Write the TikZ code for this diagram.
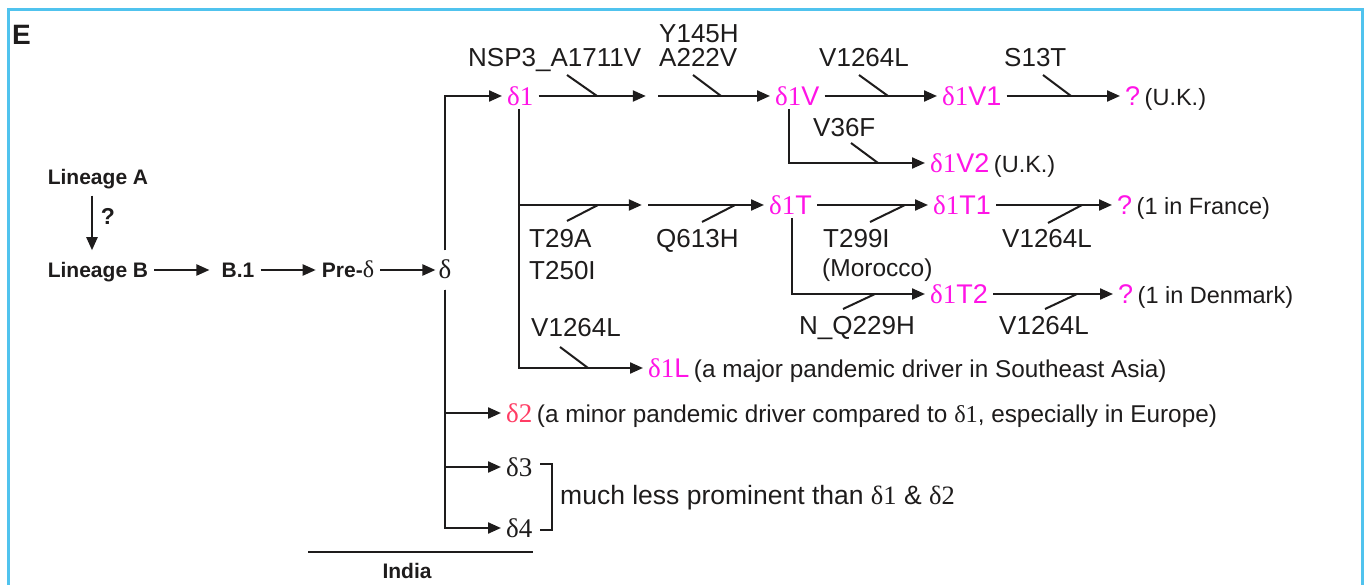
\documentclass[tikz,border=0pt]{standalone}
\usepackage{fontspec}
\setmainfont{Liberation Sans}
\newfontfamily\tms{Liberation Serif}
\usetikzlibrary{arrows.meta}
\definecolor{mag}{RGB}{255,20,230}
\definecolor{dred}{RGB}{255,60,100}
\definecolor{frm}{RGB}{80,195,238}
\definecolor{ink}{RGB}{30,28,28}
\newcommand{\dl}{{\tms δ}}
\newcommand{\dlo}{{\tms δ1}}
\newcommand{\fs}[1]{\fontsize{#1}{#1}\selectfont}
\begin{document}
\begin{tikzpicture}[x=1pt,y=-1pt,
  every node/.style={text=ink},
  ln/.style={draw=ink,line width=2.2pt},
  arr/.style={draw=ink,line width=2.2pt,-{Triangle[length=13pt,width=11pt]}},
  tk/.style={draw=ink,line width=2pt},
  frame/.style={draw=frm,line width=3pt},
  txt/.style={anchor=west,inner xsep=0pt,inner ysep=0pt,text depth=0pt},
  mut/.style={txt,text height=18.7pt,font=\fs{26}},
  note/.style={txt,text height=18.5pt},
  var/.style={txt,text height=19.4pt,inner xsep=5pt,inner ysep=3pt,text=mag,font=\fs{27}},
  bl/.style={inner xsep=6pt,inner ysep=0pt,text height=15.1pt,text depth=0pt,font=\bfseries\fs{21}},
  gap/.style={inner sep=0pt,minimum height=2pt}
]
\useasboundingbox (0,0) rectangle (1368,585);
\draw[frame] (8,590) -- (8,10) -- (1362,10) -- (1362,590);

\node[anchor=base west,inner sep=0pt,font=\bfseries\fs{28}] (E) at (12,45) {E};

% left chain
\node[bl] (LA) at (98,177) {Lineage A};
\node[bl] (LB) at (98,270) {Lineage B};
\node[bl] (B1) at (238,270) {B.1};
\node[bl] (Pre) at (348,270) {Pre-{\tms\mdseries\fs{24}δ}};
\node[inner xsep=3pt,inner ysep=10.5pt,text height=18pt,text depth=0pt,font=\fs{27}] (d) at (445,270) {\dl};
\node[inner sep=0pt,text height=16pt,text depth=0pt,font=\bfseries\fs{23}] (qA) at (108,217) {?};
\draw[arr,shorten <=11pt,shorten >=12pt] ([xshift=-6pt]LA.south) -- ([xshift=-6pt]LB.north);
\draw[arr,shorten >=6pt] (LB) -- (B1);
\draw[arr] (B1) -- (Pre);
\draw[arr] (Pre) -- (d);

% variant nodes
\node[var] (d1) at (502,96) {\dlo};
\node[gap,minimum width=12pt] (m1) at (652,96) {};
\node[var] (d1V) at (770,96) {\dlo V};
\node[var] (d1V1) at (937,96) {\dlo V1};
\node[var] (q1) at (1120,96) {?\,\textcolor{ink}{\fs{23.5}(U.K.)}};
\node[var] (d1V2) at (925,163) {\dlo V2\,\textcolor{ink}{\fs{23.5}(U.K.)}};
\node[gap,minimum width=6pt] (m2) at (645,205) {};
\node[var] (d1T) at (764,205) {\dlo T};
\node[var] (d1T1) at (928,205) {\dlo T1};
\node[var] (q2) at (1112,205) {?\,\textcolor{ink}{\fs{23.5}(1 in France)}};
\node[var] (d1T2) at (925,294) {\dlo T2};
\node[var] (q3) at (1113,294) {?\,\textcolor{ink}{\fs{23.5}(1 in Denmark)}};
\node[var] (d1L) at (643,368) {\dlo L\,\textcolor{ink}{\fs{24.3}(a major pandemic driver in Southeast Asia)}};
\node[var,text=dred] (d2) at (501,413) {{\tms δ2}\,\textcolor{ink}{\fs{24.3}(a minor pandemic driver compared to {\tms δ1}, especially in Europe)}};
\node[var,text=ink] (d3) at (501,467) {\tms δ3};
\node[var,text=ink] (d4) at (501,528) {\tms δ4};

% trunk
\draw[arr] (d.north) |- (d1.west);
\draw[arr] (d.south) |- (d2.west);
\draw[arr] (d.south) |- (d3.west);
\draw[arr] (d.south) |- (d4.west);

% delta1 branches
\draw[arr] (d1.east) -- (m1.west);
\draw[arr] (m1.east) -- (d1V.west);
\draw[arr] (d1V.east) -- (d1V1.west);
\draw[arr] (d1V1.east) -- (q1.west);
\draw[arr] ([xshift=19pt]d1V.south west) |- (d1V2.west);
\draw[arr] ([xshift=17pt]d1.south west) |- (m2.west);
\draw[arr] ([xshift=17pt]d1.south west) |- (d1L.west);
\draw[arr] (m2.east) -- (d1T.west);
\draw[arr] (d1T.east) -- (d1T1.west);
\draw[arr] (d1T1.east) -- (q2.west);
\draw[arr] ([xshift=28pt]d1T.south west) |- (d1T2.west);
\draw[arr] (d1T2.east) -- (q3.west);

% mutation labels
\node[mut] (lNSP) at (468,57) {NSP3\_A1711V};
\node[mut] (lY) at (659,33) {Y145H};
\node[mut] (lA) at (659,57) {A222V};
\node[mut] (lV1) at (819,57) {V1264L};
\node[mut] (lS) at (1004,57) {S13T};
\node[mut] (lV36) at (813,127) {V36F};
\node[mut] (lT29) at (529,238) {T29A};
\node[mut] (lT250) at (529,270) {T250I};
\node[mut] (lQ) at (656,238) {Q613H};
\node[mut] (lT299) at (823,238) {T299I};
\node[txt,text height=17.6pt,font=\fs{24.5}] (lMor) at (822,268) {(Morocco)};
\node[mut] (lNQ) at (799,325) {N\_Q229H};
\node[mut] (lVT1) at (1002,238) {V1264L};
\node[mut] (lVT2) at (999,325) {V1264L};
\node[mut] (lVL) at (531,327) {V1264L};

% ticks
\coordinate (t1a) at (567,75);   \coordinate (t1b) at (597,96);
\coordinate (t2a) at (693,75);   \coordinate (t2b) at (721,96);
\coordinate (t3a) at (859,75);   \coordinate (t3b) at (888,96);
\coordinate (t4a) at (1043,75);  \coordinate (t4b) at (1071,96);
\coordinate (t5a) at (851,143);  \coordinate (t5b) at (878,163);
\coordinate (t6a) at (567,221);  \coordinate (t6b) at (598,205);
\coordinate (t7a) at (702,222);  \coordinate (t7b) at (735,205);
\coordinate (t8a) at (870,222);  \coordinate (t8b) at (905,205);
\coordinate (t9a) at (1048,223); \coordinate (t9b) at (1082,205);
\coordinate (t10a) at (843,309); \coordinate (t10b) at (875,294);
\coordinate (t11a) at (1045,309);\coordinate (t11b) at (1077,294);
\coordinate (t12a) at (560,347); \coordinate (t12b) at (588,368);
\foreach \i in {1,...,12} {\draw[tk] (t\i a) -- (t\i b);}

% bracket and note
\coordinate (br1) at (540,464); \coordinate (br2) at (552,464);
\coordinate (br3) at (552,530); \coordinate (br4) at (540,530);
\draw[ln] (br1) -- (br2) -- (br3) -- (br4);
\node[note,font=\fs{26.5}] (less) at (560,495) {much less prominent than {\tms δ1} \& {\tms δ2}};

% India
\coordinate (in1) at (308,552); \coordinate (in2) at (533,552);
\draw[draw=ink,line width=2.5pt] (in1) -- (in2);
\node[bl] (india) at (407,571) {India};
\end{tikzpicture}
\end{document}
